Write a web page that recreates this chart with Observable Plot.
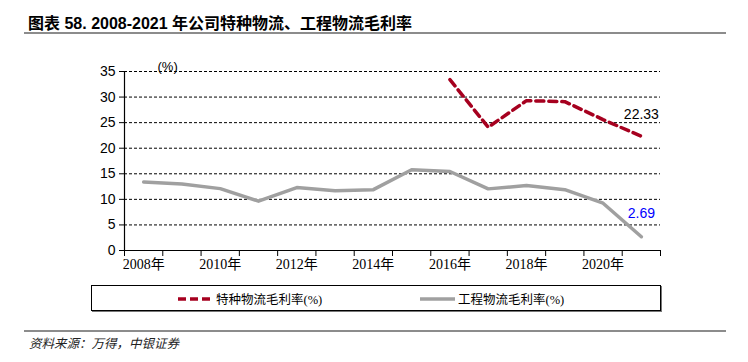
<!DOCTYPE html>
<html><head><meta charset="utf-8">
<script src="https://cdn.jsdelivr.net/npm/d3@7"></script>
<script src="https://cdn.jsdelivr.net/npm/@observablehq/plot@0.6"></script>
<style>
html,body{margin:0;padding:0;background:#fff;}
#wrap{position:relative;width:748px;height:362px;overflow:hidden;font-family:"Liberation Sans","Noto Sans CJK SC",sans-serif;}
#title{position:absolute;left:28px;top:10px;font-size:16px;font-weight:bold;color:#000;white-space:nowrap;font-family:"Liberation Sans","Noto Sans CJK SC",sans-serif;}
.hr{position:absolute;left:24px;width:702px;height:2px;background:#8c8c8c;}
#chart{position:absolute;left:0;top:0;}
#legend{position:absolute;left:91px;top:285px;width:568px;height:24px;border:1px solid #000;box-shadow:1px 1px 0 #777;}
.item{position:absolute;top:3px;font-size:12.5px;font-family:"Liberation Serif","Noto Sans CJK SC",serif;color:#000;white-space:nowrap;display:flex;align-items:center;}
.item svg{margin-right:3px;}
#source{position:absolute;left:29px;top:333px;font-size:12.5px;font-style:italic;color:#222;font-family:"Noto Sans CJK SC",sans-serif;}
</style></head>
<body>
<div id="wrap">
  <div id="title">图表 58. 2008-2021 年公司特种物流、工程物流毛利率</div>
  <div class="hr" style="top:32px"></div>
  <div id="chart"></div>
  <div id="legend"></div>
  <div class="hr" style="top:330px"></div>
  <div id="source">资料来源：万得，中银证券</div>
</div>
<script>
const years = [2008,2009,2010,2011,2012,2013,2014,2015,2016,2017,2018,2019,2020,2021];
const specialLogistics = [null,null,null,null,null,null,null,null,33.4,24.1,29.3,29.1,25.6,22.33];
const engineeringLogistics = [13.4,13.0,12.1,9.65,12.3,11.7,11.9,15.8,15.45,12.05,12.7,11.9,9.25,2.69];
const yTicks = [0,5,10,15,20,25,30,35];
const xLabelYears = [2008,2010,2012,2014,2016,2018,2020];
const seriesNames = ["特种物流毛利率(%)","工程物流毛利率(%)"];
const seriesColors = ["#a6001f","#a0a0a0"];
const unitLabel = "(%)";

const red = years.map((y,i)=>({year:y, v:specialLogistics[i]})).filter(d=>d.v!=null);
const gray = years.map((y,i)=>({year:y, v:engineeringLogistics[i]}));
const bandEdges = d3.range(years[0]-0.5, years[years.length-1]+1, 1);
const serif = '"Liberation Serif","Noto Sans CJK SC",serif';

const plot = Plot.plot({
  width: 748, height: 280,
  marginLeft: 124, marginRight: 88, marginTop: 71, marginBottom: 30,
  x: {domain:[years[0]-0.5, years[years.length-1]+0.5], axis:null},
  y: {domain:[0,35], axis:null},
  style: {fontFamily:'"Liberation Sans",sans-serif', fontSize:"14px", color:"#000", background:"transparent"},
  marks: [
    Plot.ruleY(yTicks.filter(t=>t>0), {stroke:"#000", strokeWidth:1, strokeDasharray:"3,2"}),
    Plot.axisY({ticks:yTicks, tickSize:5, tickPadding:4, label:null, fontSize:14, stroke:"#000"}),
    Plot.axisX({ticks:bandEdges, tickSize:6, tickFormat:()=>"", label:null}),
    Plot.axisX({ticks:xLabelYears, tickSize:0, tickPadding:9, tickFormat:d=>d+"年", label:null, fontFamily:serif, fontSize:14}),
    Plot.ruleY([0], {stroke:"#000", strokeWidth:1.2}),
    Plot.ruleX([years[0]-0.5], {stroke:"#000", strokeWidth:1.2}),
    Plot.line(gray, {x:"year", y:"v", stroke:seriesColors[1], strokeWidth:3.5, strokeLinejoin:"round"}),
    Plot.line(red, {x:"year", y:"v", stroke:seriesColors[0], strokeWidth:3.5, strokeDasharray:"8,5"}),
    Plot.text([red[red.length-1]], {x:"year", y:"v", text:d=>d.v.toFixed(2), dy:-22, fontSize:14, fill:"#000"}),
    Plot.text([gray[gray.length-1]], {x:"year", y:"v", text:d=>d.v.toFixed(2), dy:-23, fontSize:14, fill:"#0000ff"}),
    Plot.text([unitLabel], {frameAnchor:"top-left", lineAnchor:"bottom", text:d=>d, dx:33, dy:-1, fontSize:13, fill:"#000"})
  ]
});
document.getElementById("chart").appendChild(plot);

const legend = document.getElementById("legend");
const lpos = [86, 328];
seriesNames.forEach((name,i)=>{
  const it = document.createElement("div");
  it.className = "item";
  it.style.left = lpos[i]+"px";
  const dash = i===0 ? 'stroke-dasharray="8,4"' : '';
  it.innerHTML = `<svg width="35" height="10"><line x1="0" y1="5" x2="35" y2="5" stroke="${seriesColors[i]}" stroke-width="3.5" ${dash}/></svg>${name}`;
  legend.appendChild(it);
});
</script>
</body></html>
